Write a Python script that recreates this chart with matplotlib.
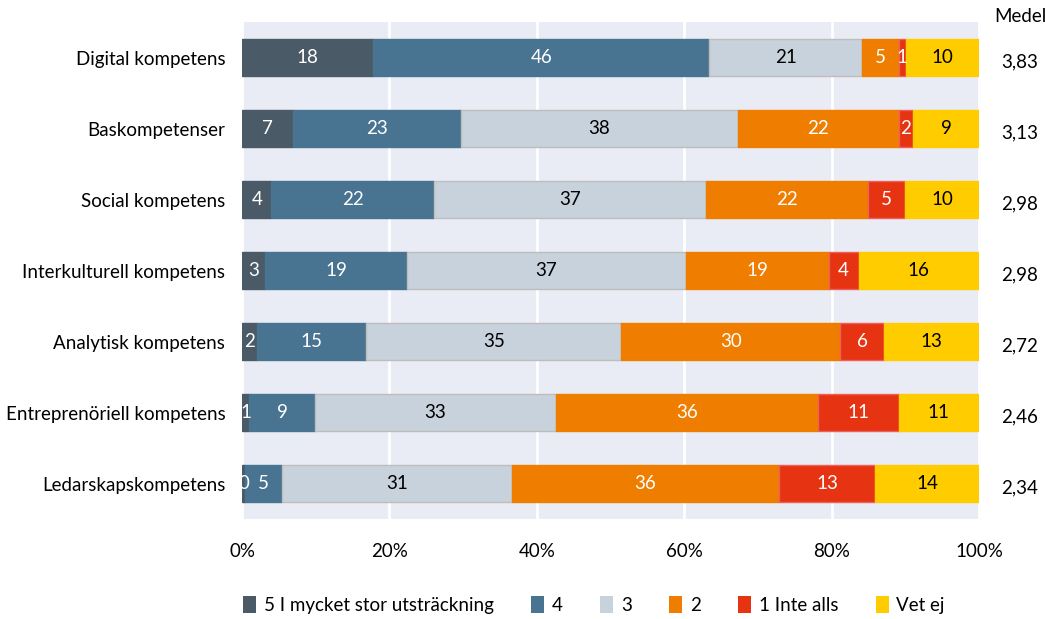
import numpy as np
import matplotlib.pyplot as plt
from matplotlib.patches import Patch
from matplotlib.transforms import blended_transform_factory

plt.rcParams['font.family'] = ['Lato', 'DejaVu Sans']

categories = ['Digital kompetens', 'Baskompetenser', 'Social kompetens',
              'Interkulturell kompetens', 'Analytisk kompetens',
              'Entreprenöriell kompetens', 'Ledarskapskompetens']
series_names = ['5 I mycket stor utsträckning', '4', '3', '2', '1 Inte alls', 'Vet ej']

v5 = [18, 7, 4, 3, 2, 1, 0.4]
v4 = [46, 23, 22, 19, 15, 9, 5]
v3 = [21, 38, 37, 37, 35, 33, 31]
v2 = [5, 22, 22, 19, 30, 36, 36]
v1 = [1, 2, 5, 4, 6, 11, 13]
vet_ej = [10, 9, 10, 16, 13, 11, 14]
medel = ['3,83', '3,13', '2,98', '2,98', '2,72', '2,46', '2,34']

colors = ['#4a5a66', '#487391', '#c8d2dc', '#ef7d00', '#e63312', '#ffcc00']
edges = [None, None, '#bdbdbd', None, '#f0605a', None]
txt_colors = ['white', 'white', 'black', 'white', 'white', 'black']

data = np.array([v5, v4, v3, v2, v1, vet_ej], dtype=float)
pct = data / data.sum(axis=0) * 100

fs = 13.5

fig = plt.figure(figsize=(10.45, 6.19), dpi=100)
ax = fig.add_axes([242/1045, 1 - 519/619, 737/1045, 497/619])
ax.set_facecolor('#e9ecf4')

y = np.arange(len(categories))
left = np.zeros(len(categories))
for i in range(len(series_names)):
    ec = edges[i] if edges[i] else colors[i]
    ax.barh(y, pct[i], left=left, height=0.535, color=colors[i],
            edgecolor=ec, linewidth=1, label=series_names[i], zorder=3)
    for j in range(len(categories)):
        ax.text(left[j] + pct[i][j] / 2, y[j], '%d' % round(data[i][j]),
                ha='center', va='center', color=txt_colors[i], fontsize=fs,
                zorder=4, clip_on=True)
    left += pct[i]

ax.set_xlim(0, 100)
ax.set_ylim(len(categories) - 0.5, -0.5)
ax.set_yticks(y)
ax.set_yticklabels(categories, fontsize=fs)
ax.set_xticks([0, 20, 40, 60, 80, 100])
ax.set_xticklabels(['0%', '20%', '40%', '60%', '80%', '100%'], fontsize=fs)
ax.tick_params(axis='x', length=0, pad=17)
ax.tick_params(axis='y', length=0, pad=12)
ax.grid(axis='x', color='white', linewidth=2, zorder=0)
for s in ax.spines.values():
    s.set_visible(False)

# Medel column
fig.text(1020/1045, 1 - 17/619, 'Medel', ha='center', va='center', fontsize=fs)
trans = blended_transform_factory(fig.transFigure, ax.transData)
for j in range(len(categories)):
    ax.text(1020/1045, y[j] + 0.06, medel[j], ha='center', va='center',
            fontsize=fs, transform=trans)

handles = [Patch(facecolor=c) for c in colors]
fig.legend(handles, series_names, loc='center', bbox_to_anchor=(594/1045, 1 - 605/619),
           ncol=6, frameon=False, fontsize=fs, handlelength=0.7, handleheight=1.0,
           handletextpad=0.4, columnspacing=2.0)

plt.savefig('out.png', dpi=100)
